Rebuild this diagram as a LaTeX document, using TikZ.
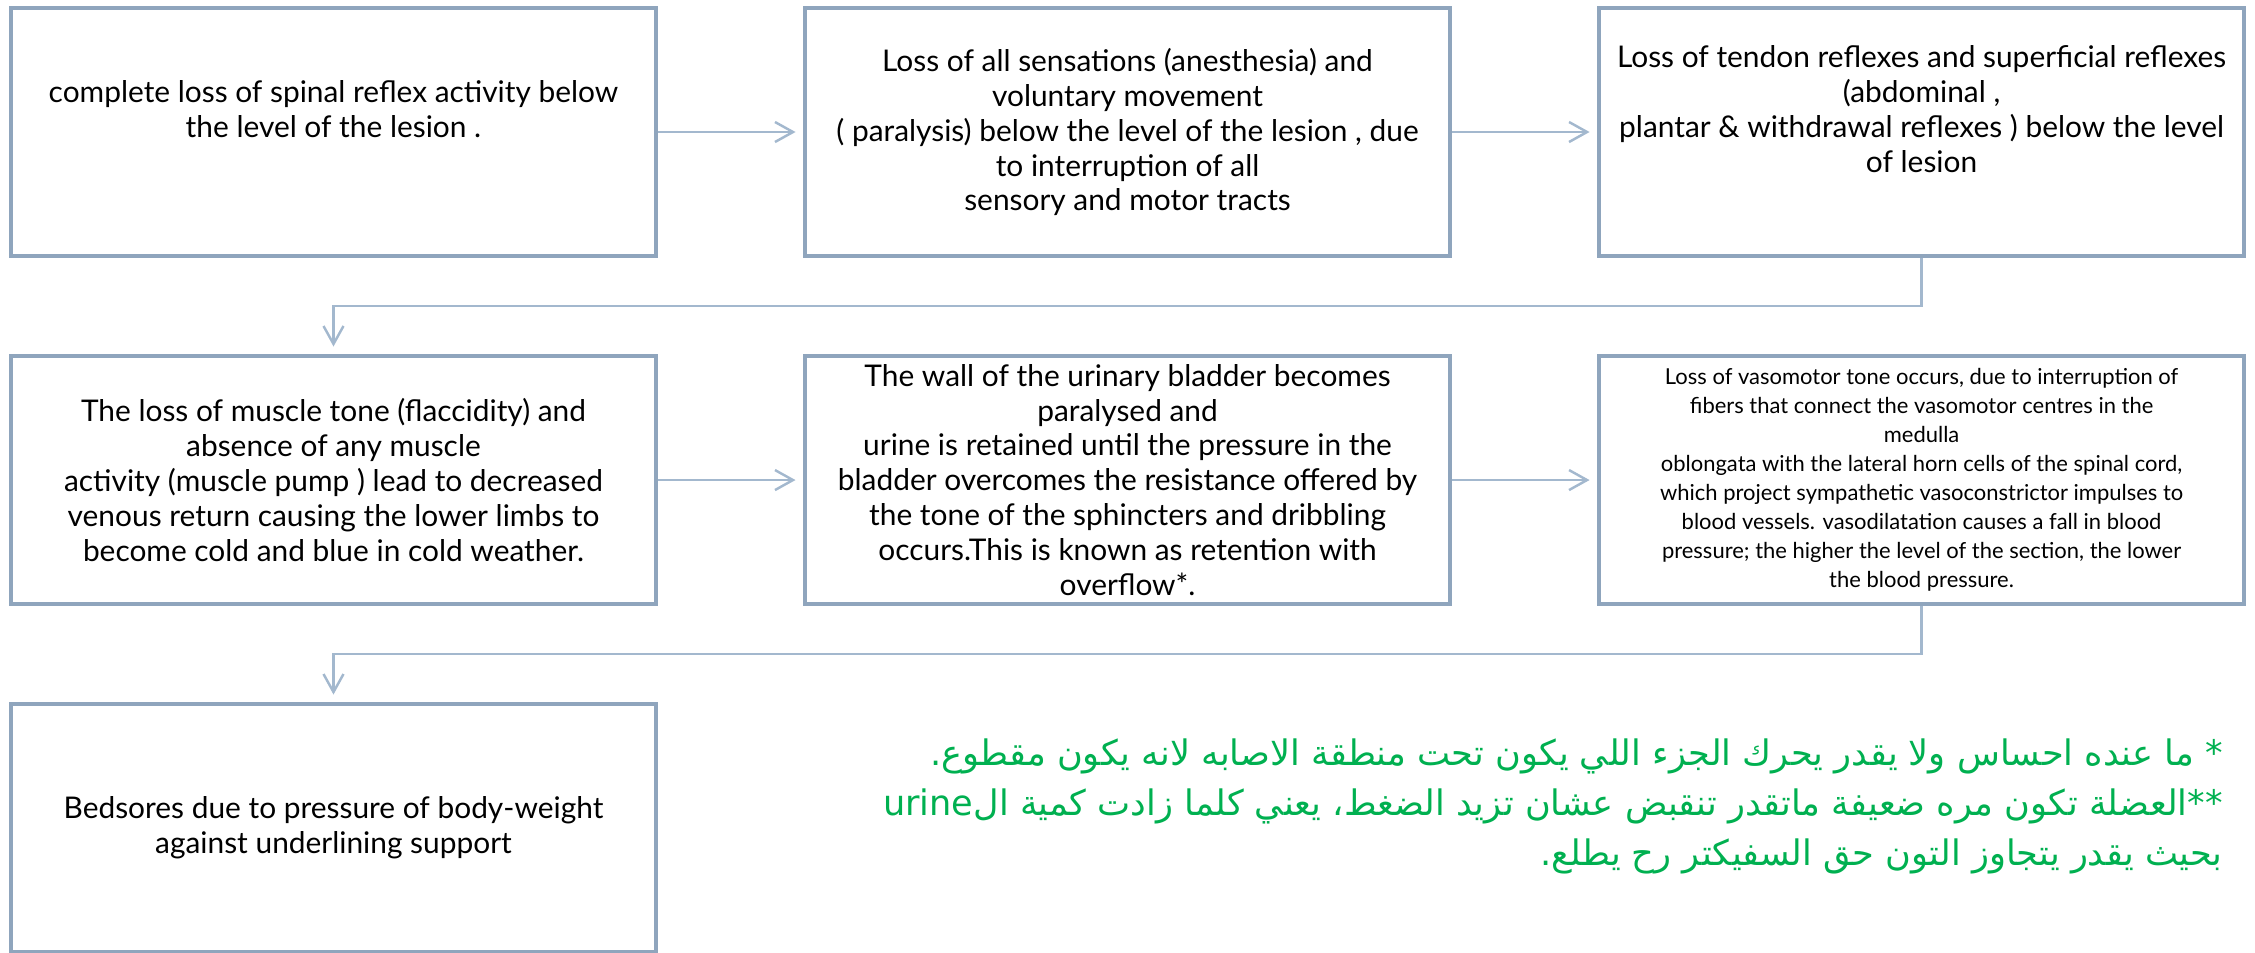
\documentclass[tikz,border=0pt]{standalone}
\usepackage{fontspec}
\setmainfont{Lato}
\newfontfamily\arabicfont[Script=Arabic]{DejaVu Sans}
\TeXXeTstate=1
\usetikzlibrary{arrows.meta,positioning}
\definecolor{boxline}{HTML}{8FA5BD}
\definecolor{linkline}{HTML}{A3B8CE}
\definecolor{notegreen}{HTML}{00B050}

\begin{document}
\begin{tikzpicture}[
  node distance=1.92cm and 2.9cm,
  box/.style={draw=boxline,line width=2.3pt,align=center,minimum width=12.9cm,minimum height=4.96cm,inner sep=0pt,font=\fontsize{17}{19.9}\selectfont},
  small/.style={font=\fontsize{12.5}{16.5}\selectfont},
  note/.style={align=right,inner sep=0pt,text=notegreen,font=\arabicfont\fontsize{20}{28.4}\selectfont},
  arr/.style={draw=linkline,line width=1.4pt,shorten >=1.5mm,-{Straight Barb[length=3.6mm,width=4mm]}}
]
\useasboundingbox (0,0) rectangle (45.1,-19.04);

% first row
\node[box] (loss) at (6.67,-2.64) {complete loss of spinal reflex activity below\\the level of the lesion .\\\strut};
\node[box,right=of loss] (sense) {Loss of all sensations (anesthesia) and\\voluntary movement\\( paralysis) below the level of the lesion , due\\to interruption of all\\sensory and motor tracts};
\node[box,right=of sense] (reflex) {Loss of tendon reflexes and superficial reflexes\\(abdominal ,\\plantar \& withdrawal reflexes ) below the level\\of lesion\\\strut};

% second row
\node[box,below=of loss] (tone) {The loss of muscle tone (flaccidity) and\\absence of any muscle\\activity (muscle pump ) lead to decreased\\venous return causing the lower limbs to\\become cold and blue in cold weather.};
\node[box,below=of sense] (bladder) {The wall of the urinary bladder becomes\\paralysed and\\urine is retained until the pressure in the\\bladder overcomes the resistance offered by\\the tone of the sphincters and dribbling\\occurs.This is known as retention with\\overflow*.};
\node[box,small,below=of reflex] (vaso) {Loss of vasomotor tone occurs, due to interruption of\\fibers that connect the vasomotor centres in the\\medulla\\oblongata with the lateral horn cells of the spinal cord,\\which project sympathetic vasoconstrictor impulses to\\blood vessels. vasodilatation causes a fall in blood\\pressure; the higher the level of the section, the lower\\the blood pressure.};

% third row
\node[box,below=of tone] (bedsore) {Bedsores due to pressure of body-weight\\against underlining support};

% notes
\node[note,anchor=north east] (notes) at (44.46,-14.77) {%
\beginR * ما عنده احساس ولا يقدر يحرك الجزء اللي يكون تحت منطقة الاصابه لانه يكون مقطوع\hbox{}.\endR\\
\beginR **\hbox{}العضلة تكون مره ضعيفة ماتقدر تنقبض عشان تزيد الضغط\hbox{}،  يعني كلما زادت كمية ال\beginL urine\endL\endR\\
\beginR بحيث يقدر يتجاوز التون حق السفيكتر رح يطلع\hbox{}.\endR};

\draw[arr] (loss) -- (sense);
\draw[arr] (sense) -- (reflex);
\draw[arr] (reflex.south) -- ++(0,-0.96) -| (tone.north);
\draw[arr] (tone) -- (bladder);
\draw[arr] (bladder) -- (vaso);
\draw[arr] (vaso.south) -- ++(0,-0.96) -| (bedsore.north);
\end{tikzpicture}
\end{document}
